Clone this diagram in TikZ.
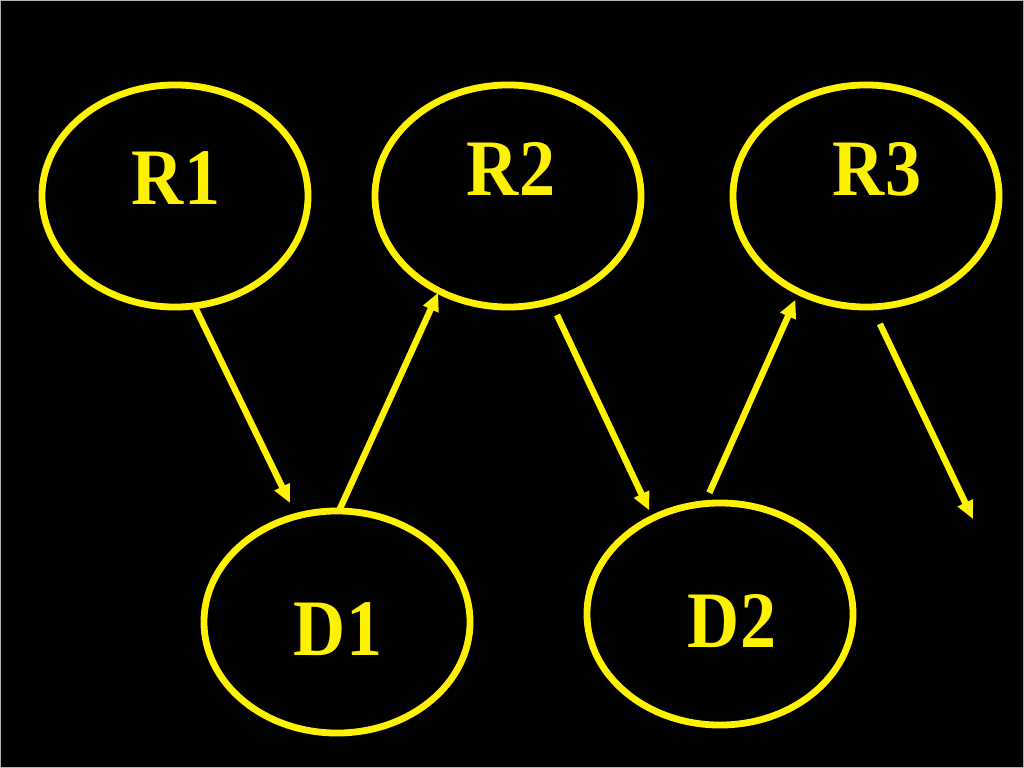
\documentclass[tikz,border=0pt]{standalone}
\usepackage{fontspec}
\setmainfont{Liberation Serif}[FakeStretch=0.9]
\usetikzlibrary{shapes.geometric,arrows.meta}

\tikzset{
  state/.style={ellipse, draw=yellow, line width=0.17cm,
    minimum width=6.65cm, minimum height=5.55cm, inner sep=0pt, outer sep=0pt},
  statename/.style={text=yellow, anchor=base, inner sep=0pt,
    font=\bfseries\fontsize{57}{62}\selectfont},
  flow/.style={draw=yellow, line width=0.16cm,
    -{Triangle[length=0.45cm,width=0.4cm]}}
}

\begin{document}
\begin{tikzpicture}[x=0.025cm,y=-0.025cm]
\useasboundingbox (0,0) rectangle (1024,768);
\fill[black] (0,0) rectangle (1024,768);
\draw[gray!60,line width=0.025cm] (0.5,0.5) rectangle (1023.5,767.5);

% ellipses of the states
\foreach \name/\x/\y in {R1/175/196, R2/508/196, R3/866/196, D1/337/622, D2/720/614}
  \node[state] (\name) at (\x,\y) {};

% names, not quite centred
\foreach \name/\x/\y in {R1/176/204, R2/511/195, R3/877/195, D1/338/655, D2/732/647}
  \node[statename] (lbl\name) at (\x,\y) {\name};

% arrows between the states
\draw[flow, shorten >=0.37cm] (R1.-80) -- (D1.111);
\draw[flow, shorten >=0.05cm] (D1.89) -- (R2.-126.7);
\draw[flow, shorten <=0.38cm, shorten >=0.215cm] (R2.-68) -- (D2.125.7);
\draw[flow, shorten <=0.3cm, shorten >=0.215cm] (D2.98.7) -- (R3.-125.8);

% the last one goes nowhere
\coordinate (out) at (973,519);
\draw[flow, shorten <=0.47cm] (R3.-87.5) -- (out);
\end{tikzpicture}
\end{document}
